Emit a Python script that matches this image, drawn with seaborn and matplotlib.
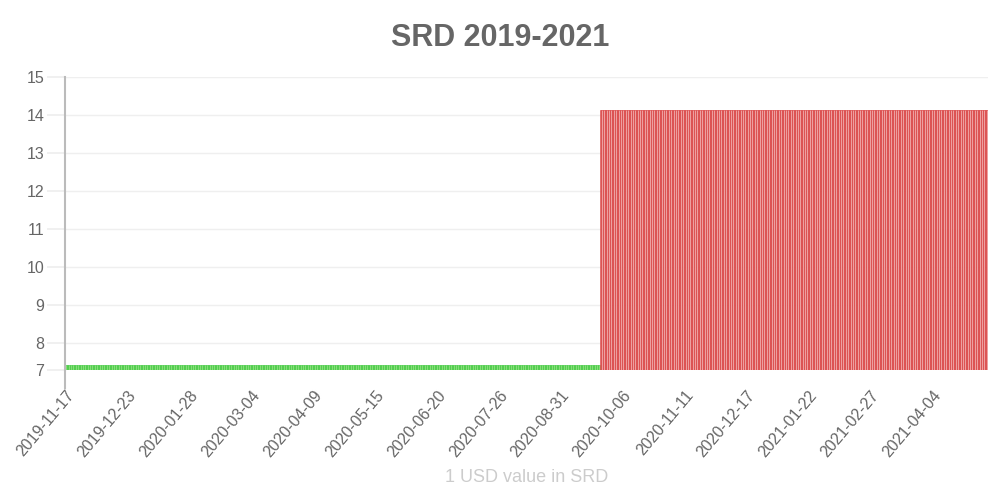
import matplotlib
matplotlib.use("Agg")
import matplotlib.pyplot as plt
import seaborn as sns
import pandas as pd
import numpy as np

# data: two flat periods of the USD/SRD rate
period_start = ["2019-11-17", "2020-09-23"]
period_end = ["2020-09-22", "2021-05-06"]
period_rate = [7.43, 14.13]
period_name = ["low", "high"]

tick_step = 36  # every 36th day is labelled

sns.set_theme(style="white")
plt.rcParams["font.family"] = ["Liberation Sans", "DejaVu Sans"]

frames = []
for s, e, r, n in zip(period_start, period_end, period_rate, period_name):
    days = pd.date_range(s, e, freq="D")
    frames.append(pd.DataFrame({"date": days.strftime("%Y-%m-%d"),
                                "rate": r, "period": n}))
df = pd.concat(frames, ignore_index=True)

fill = {"low": "#86de78", "high": "#eda0a0"}
edge = {"low": "#35c535", "high": "#d42a2a"}

fig = plt.figure(figsize=(10, 5), dpi=100)
ax = fig.add_axes([0.065, 0.26, 0.923, 0.586])

sns.barplot(data=df, x="date", y="rate", hue="period", palette=fill,
            dodge=False, width=1.0, saturation=1, legend=False, ax=ax)

# chart.js style borders on every bar
for p in ax.patches:
    fc = p.get_facecolor()
    key = "low" if fc[1] > fc[0] else "high"
    p.set_edgecolor(edge[key])
    p.set_linewidth(0.4)

ax.set_xlim(-0.5, len(df) - 0.5)
ymin = 7.30
ax.set_ylim(ymin, 15)
ax.set_yticks([ymin] + list(range(8, 16)))
ax.set_yticklabels(["7"] + [str(v) for v in range(8, 16)])
ax.yaxis.grid(True, color="#efefef", linewidth=1)
ax.set_axisbelow(True)

idx = np.arange(0, len(df), tick_step)
ax.set_xticks(idx)
ax.set_xticklabels(df["date"].iloc[idx], rotation=50, ha="right",
                   rotation_mode="anchor")
# small downward extension of the y axis line
ax.set_xticks([-0.5], minor=True)

ax.tick_params(axis="y", left=True, length=13, color="#eeeeee",
               labelsize=11.5, labelcolor="#666666", pad=2)
ax.tick_params(axis="x", which="major", bottom=False, labelsize=11.5,
               labelcolor="#666666", pad=7)
ax.tick_params(axis="x", which="minor", bottom=True, length=14, width=1.5,
               color="#bbbbbb")

for side in ["top", "right", "bottom"]:
    ax.spines[side].set_visible(False)
ax.spines["left"].set_color("#bbbbbb")
ax.spines["left"].set_linewidth(1.5)

ax.set_xlabel("1 USD value in SRD", color="#cccccc", fontsize=13,
              labelpad=6)
ax.set_ylabel("")
fig.suptitle("SRD 2019-2021", x=0.5, y=0.955, fontsize=22,
             fontweight="bold", color="#666666")

fig.savefig("out.png", dpi=100)
